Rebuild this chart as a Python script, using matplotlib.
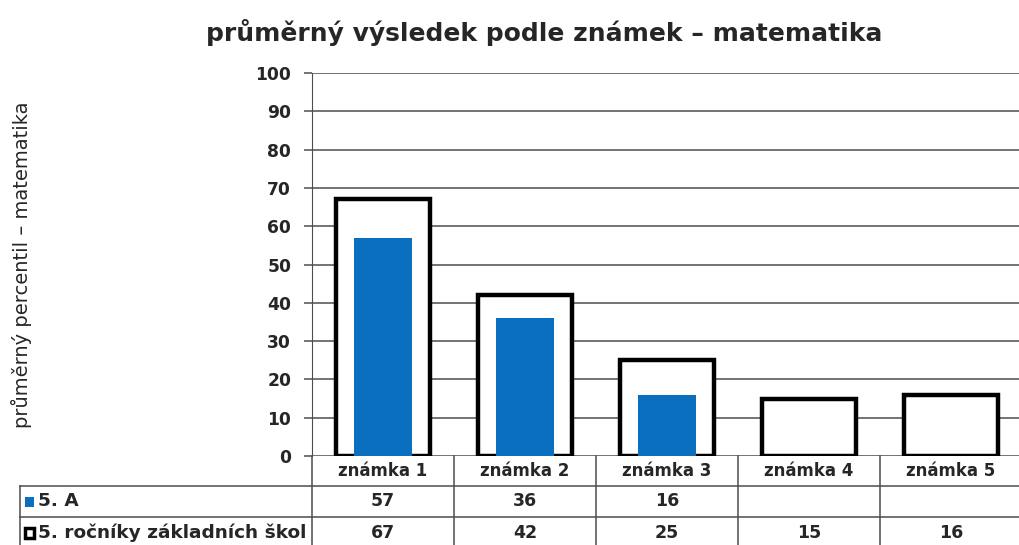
import numpy as np
import matplotlib
matplotlib.use("Agg")
from matplotlib import pyplot as plt
from matplotlib.patches import Rectangle

categories = ['známka 1', 'známka 2', 'známka 3', 'známka 4', 'známka 5']
class_values = [57, 36, 16, None, None]
school_values = [67, 42, 25, 15, 16]
series_names = ['5. A', '5. ročníky základních škol']
y_ticks = [0, 10, 20, 30, 40, 50, 60, 70, 80, 90, 100]

plt.rcParams['font.family'] = ['DejaVu Sans']

W, H = 1020, 545
fig = plt.figure(figsize=(W / 100, H / 100), dpi=100)
left, right, top, bottom = 312, 1022, 73, 456
ax = fig.add_axes([left / W, 1 - bottom / H, (right - left) / W, (bottom - top) / H])

blue = '#0a6fbf'
text_col = '#262626'
grid_col = '#4d4d4d'

x = np.arange(len(categories))
ax.bar(x, school_values, width=0.66, facecolor='white', edgecolor='black', linewidth=3.2, zorder=3)
cls = [v if v is not None else 0 for v in class_values]
ax.bar(x, cls, width=0.41, color=blue, zorder=4)

ax.set_xlim(-0.5, len(categories) - 0.5)
ax.set_ylim(0, 100)
ax.set_yticks(y_ticks)
ax.set_yticklabels([str(t) for t in y_ticks], fontsize=12.3, fontweight='bold', color=text_col)
ax.yaxis.grid(True, color=grid_col, linewidth=1.1, zorder=0)
ax.set_axisbelow(True)
ax.set_xticks([])
for s in ['top', 'right', 'bottom']:
    ax.spines[s].set_visible(False)
ax.spines['left'].set_color(grid_col)
ax.tick_params(axis='y', length=6, width=1.1, color=grid_col, pad=9)

fig.suptitle('průměrný výsledek podle známek – matematika', x=0.534, y=0.965,
             fontsize=18, fontweight='bold', color=text_col)
fig.text(22 / W, 1 - 265 / H, 'průměrný percentil – matematika', rotation=90,
         ha='center', va='center', fontsize=14, color=text_col)

# data table under the axes, drawn in pixel coordinates
def px(xp, yp):
    return xp / W, 1 - yp / H

col_w = (right - left) / len(categories)
row_lines = [bottom, 486, 517, 548]
line_kw = dict(color=grid_col, linewidth=1.1, transform=fig.transFigure)

for yl in row_lines[1:3]:
    fig.add_artist(plt.Line2D([px(20, 0)[0], px(right, 0)[0]], [px(0, yl)[1]] * 2, **line_kw))
fig.add_artist(plt.Line2D([px(20, 0)[0]] * 2, [px(0, 486)[1], px(0, 548)[1]], **line_kw))
for i in range(len(categories) + 1):
    xl = left + i * col_w
    fig.add_artist(plt.Line2D([px(xl, 0)[0]] * 2, [px(0, bottom)[1], px(0, 548)[1]], **line_kw))

for i, c in enumerate(categories):
    xc = left + (i + 0.5) * col_w
    yc = (row_lines[0] + row_lines[1]) / 2
    fig.text(*px(xc, yc), c, ha='center', va='center', fontsize=12, fontweight='bold', color=text_col)
    for r, vals in enumerate([class_values, school_values]):
        if vals[i] is None:
            continue
        yc = (row_lines[r + 1] + row_lines[r + 2]) / 2
        fig.text(*px(xc, yc), str(vals[i]), ha='center', va='center', fontsize=12.5,
                 fontweight='bold', color=text_col)

for r, name in enumerate(series_names):
    yc = (row_lines[r + 1] + row_lines[r + 2]) / 2
    mx, my = px(25, yc + 5)
    if r == 0:
        sq = Rectangle((mx, my), 9 / W, 10 / H, transform=fig.transFigure, facecolor=blue,
                       edgecolor='none')
    else:
        sq = Rectangle((mx, my), 9 / W, 10 / H, transform=fig.transFigure, facecolor='white',
                       edgecolor='black', linewidth=2.5)
    fig.add_artist(sq)
    fig.text(*px(38, yc), name, ha='left', va='center', fontsize=13.3, fontweight='bold',
             color=text_col)

fig.savefig('out.png', dpi=100)
